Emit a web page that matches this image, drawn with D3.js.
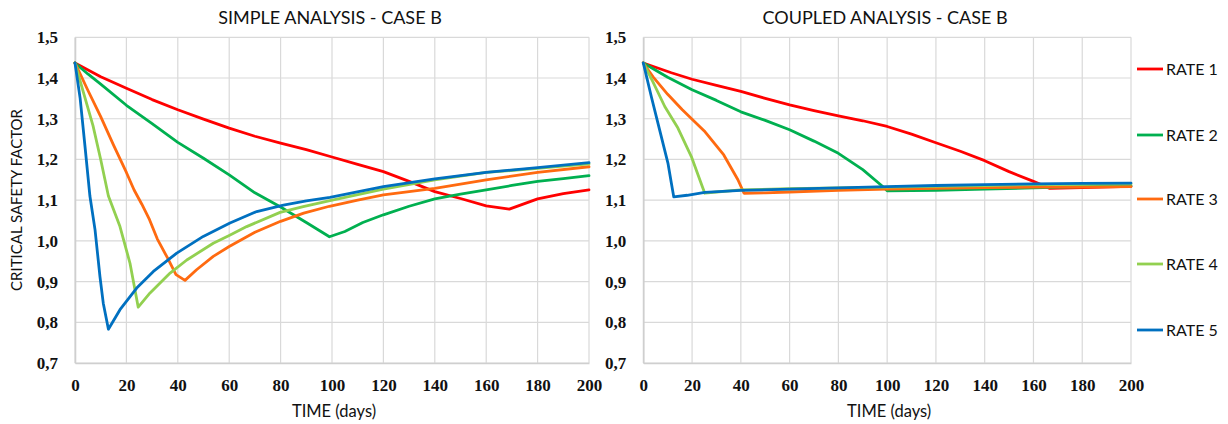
<!DOCTYPE html>
<html>
<head>
<meta charset="utf-8">
<script src="https://cdn.jsdelivr.net/npm/d3@7"></script>
<style>
  html, body { margin: 0; padding: 0; background: #fff; }
  svg { display: block; }
</style>
</head>
<body>
<svg id="chart" width="1228" height="424"></svg>
<script>
// Critical safety factor over time for five loading rates, two analysis types.
const seriesNames = ["RATE 1", "RATE 2", "RATE 3", "RATE 4", "RATE 5"];
const seriesColors = ["#ff0000", "#00b050", "#ff6a10", "#92d050", "#0070c0"];
const xTicks = [0, 20, 40, 60, 80, 100, 120, 140, 160, 180, 200];
const yTicks = [0.7, 0.8, 0.9, 1.0, 1.1, 1.2, 1.3, 1.4, 1.5];

// Simple analysis: [day, safety factor]
const simpleRate1 = [[0,1.437],[10,1.403],[20,1.375],[30,1.347],[40,1.322],[50,1.299],[60,1.277],[70,1.257],[80,1.240],[90,1.224],[100,1.206],[110,1.188],[120,1.170],[130,1.146],[140,1.121],[150,1.104],[160,1.086],[169,1.078],[180,1.103],[190,1.116],[200,1.125]];
const simpleRate2 = [[0,1.437],[5,1.410],[10,1.385],[20,1.333],[30,1.288],[40,1.242],[50,1.203],[60,1.162],[70,1.118],[80,1.083],[90,1.045],[99,1.010],[105,1.023],[112,1.045],[120,1.064],[130,1.085],[140,1.103],[150,1.115],[160,1.125],[170,1.136],[180,1.146],[190,1.153],[200,1.160]];
const simpleRate3 = [[0,1.437],[5,1.370],[10,1.305],[15,1.235],[20,1.168],[23,1.125],[26,1.090],[29,1.052],[32,1.005],[36,0.958],[39.3,0.917],[42.8,0.903],[47.3,0.929],[53.8,0.962],[60,0.986],[70,1.021],[80,1.048],[89,1.068],[99,1.085],[110,1.100],[120,1.113],[140,1.129],[160,1.150],[180,1.168],[200,1.182]];
const simpleRate4 = [[0,1.437],[3.5,1.360],[7,1.283],[10,1.200],[13,1.110],[17.5,1.035],[21.4,0.945],[24.6,0.837],[29.2,0.872],[37,0.921],[43.5,0.953],[53.8,0.994],[60,1.013],[66.8,1.035],[79.8,1.070],[88.8,1.084],[99.2,1.099],[120,1.127],[140,1.150],[160,1.168],[180,1.178],[200,1.189]];
const simpleRate5 = [[0,1.437],[2,1.350],[4,1.225],[5.8,1.110],[7.8,1.027],[9.7,0.913],[11,0.847],[13,0.783],[17.5,0.831],[24,0.884],[30.5,0.925],[39.6,0.970],[49.9,1.011],[60.3,1.044],[70.7,1.072],[81.1,1.088],[90,1.098],[99.2,1.107],[120,1.133],[140,1.152],[160,1.168],[180,1.180],[200,1.192]];

// Coupled analysis: [day, safety factor]
const coupledRate1 = [[0,1.437],[11.5,1.413],[20,1.397],[30,1.382],[40,1.367],[50,1.350],[60,1.334],[70,1.320],[80,1.307],[90,1.295],[100,1.281],[110,1.262],[120,1.241],[130,1.220],[140,1.197],[150,1.170],[160,1.146],[166.7,1.129],[180,1.131],[200,1.134]];
const coupledRate2 = [[0,1.437],[10,1.402],[20,1.371],[30,1.345],[40,1.317],[50,1.296],[60,1.273],[70,1.245],[80,1.215],[90,1.175],[98.3,1.133],[100,1.123],[120,1.124],[140,1.127],[160,1.130],[180,1.133],[200,1.135]];
const coupledRate3 = [[0,1.437],[4,1.403],[10,1.360],[16,1.322],[25,1.270],[33,1.211],[38.8,1.150],[41.3,1.117],[50,1.118],[60,1.120],[80,1.124],[100,1.127],[120,1.129],[140,1.131],[160,1.132],[180,1.132],[200,1.133]];
const coupledRate4 = [[0,1.437],[4,1.390],[8.8,1.330],[14.2,1.277],[19.7,1.207],[25.2,1.117],[30,1.120],[40,1.125],[60,1.128],[80,1.130],[100,1.132],[120,1.134],[140,1.136],[160,1.138],[180,1.139],[200,1.140]];
const coupledRate5 = [[0,1.437],[3.3,1.354],[6,1.289],[10.1,1.191],[11.5,1.142],[12.5,1.108],[18,1.112],[25.2,1.119],[40,1.124],[60,1.127],[80,1.130],[100,1.133],[120,1.136],[140,1.138],[160,1.140],[180,1.141],[200,1.142]];

const panels = [
  { title: "SIMPLE ANALYSIS - CASE B", x0: 75, x1: 589,
    series: [simpleRate1, simpleRate2, simpleRate3, simpleRate4, simpleRate5] },
  { title: "COUPLED ANALYSIS - CASE B", x0: 643.3, x1: 1131,
    series: [coupledRate1, coupledRate2, coupledRate3, coupledRate4, coupledRate5] }
];

const svg = d3.select("#chart");
const yTop = 37.3, yBottom = 363;
const fmt = v => d3.format(".1f")(v).replace(".", ",");
const tickFont = "'Liberation Serif', 'Times New Roman', serif";
const textFont = "Lato, 'Open Sans', sans-serif";

panels.forEach(p => {
  const x = d3.scaleLinear().domain([0, 200]).range([p.x0, p.x1]);
  const y = d3.scaleLinear().domain([0.7, 1.5]).range([yBottom, yTop]);
  const g = svg.append("g");

  // gridlines
  g.append("g").selectAll("line.v").data(xTicks).join("line")
    .attr("x1", d => x(d)).attr("x2", d => x(d))
    .attr("y1", yTop).attr("y2", yBottom)
    .attr("stroke", "#d9d9d9").attr("stroke-width", 1.2);
  g.append("g").selectAll("line.h").data(yTicks).join("line")
    .attr("x1", p.x0).attr("x2", p.x1)
    .attr("y1", d => y(d)).attr("y2", d => y(d))
    .attr("stroke", "#d9d9d9").attr("stroke-width", 1.2);

  // axes
  const xAxis = d3.axisBottom(x).tickValues(xTicks).tickSize(0).tickPadding(0).tickFormat(d3.format("d"));
  const xg = g.append("g").attr("transform", `translate(0,${yBottom})`).call(xAxis);
  xg.select(".domain").attr("stroke", "#cfcfcf").attr("stroke-width", 1.6);
  xg.selectAll("text").attr("dy", null).attr("y", 28)
    .style("font-family", tickFont).style("font-weight", "bold").style("font-size", "17px").attr("fill", "#111");

  const yAxis = d3.axisLeft(y).tickValues(yTicks).tickSize(0).tickPadding(17).tickFormat(fmt);
  const yg = g.append("g").attr("transform", `translate(${p.x0},0)`).call(yAxis);
  yg.select(".domain").attr("stroke", "#cfcfcf").attr("stroke-width", 1.6);
  yg.selectAll("text")
    .style("font-family", tickFont).style("font-weight", "bold").style("font-size", "17px").attr("fill", "#111");

  // title and x label
  g.append("text").attr("x", (p.x0 + p.x1) / 2 - 2).attr("y", 24)
    .attr("text-anchor", "middle").style("font-family", textFont).style("font-size", "18px")
    .attr("fill", "#111").text(p.title);
  g.append("text").attr("x", (p.x0 + p.x1) / 2 + 2).attr("y", 417)
    .attr("text-anchor", "middle").style("font-family", textFont).style("font-size", "16.5px")
    .attr("fill", "#111").text("TIME (days)");

  // series lines
  const line = d3.line().x(d => x(d[0])).y(d => y(d[1])).curve(d3.curveLinear);
  g.append("g").selectAll("path").data(p.series).join("path")
    .attr("d", line)
    .attr("fill", "none")
    .attr("stroke", (d, i) => seriesColors[i])
    .attr("stroke-width", 2.8)
    .attr("stroke-linejoin", "round")
    .attr("stroke-linecap", "round");
});

// y axis title (left panel)
svg.append("text")
  .attr("transform", "translate(22,200) rotate(-90)")
  .attr("text-anchor", "middle")
  .style("font-family", textFont).style("font-size", "15px").attr("fill", "#111")
  .text("CRITICAL SAFETY FACTOR");

// legend
const legendY = [69, 135, 199, 264, 330];
const lg = svg.append("g").selectAll("g").data(seriesNames).join("g")
  .attr("transform", (d, i) => `translate(1137,${legendY[i]})`);
lg.append("line").attr("x1", 0).attr("x2", 26).attr("y1", 0).attr("y2", 0)
  .attr("stroke", (d, i) => seriesColors[i]).attr("stroke-width", 2.8);
lg.append("text").attr("x", 29).attr("y", 6)
  .style("font-family", textFont).style("font-size", "16px").attr("fill", "#111")
  .text(d => d);
</script>
</body>
</html>
